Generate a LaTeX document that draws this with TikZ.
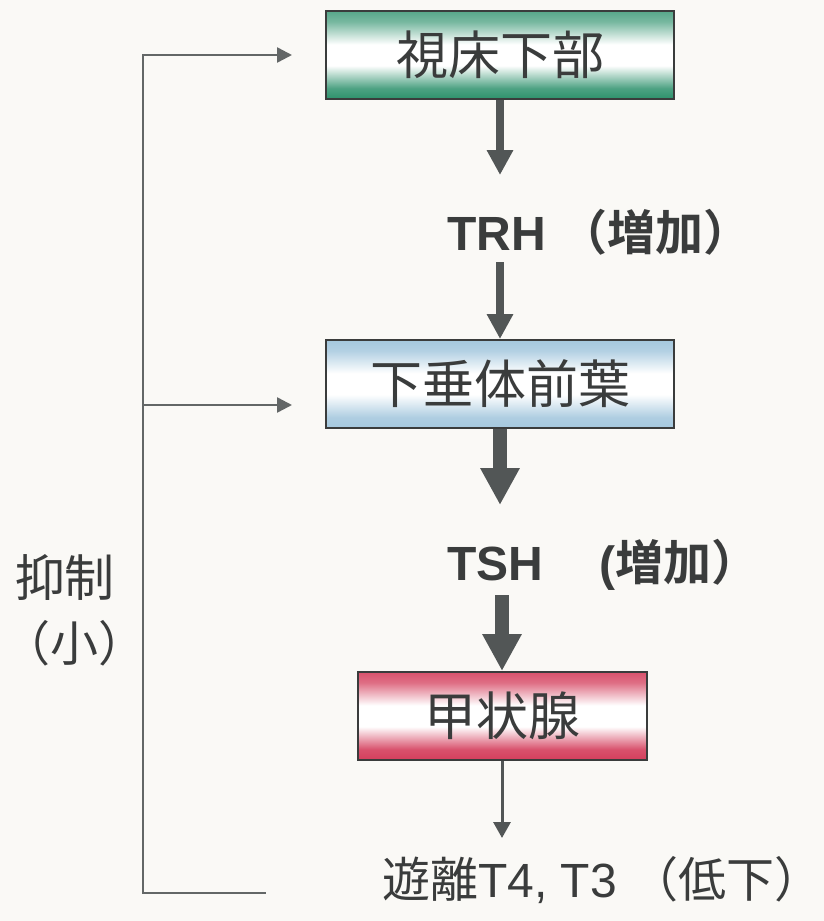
\documentclass[tikz,border=0pt]{standalone}
\usepackage{fontspec}
\setmainfont{Liberation Sans}
\newfontfamily\cjk{Noto Sans CJK JP}[BoldFont={Noto Sans CJK JP Bold}]
\usetikzlibrary{arrows.meta}
\definecolor{bg}{RGB}{250,249,246}
\definecolor{ink}{RGB}{58,60,60}
\definecolor{arr}{RGB}{82,86,86}
\definecolor{gG}{RGB}{45,145,108}
\definecolor{gB}{RGB}{165,200,222}
\definecolor{gR}{RGB}{212,62,92}
\pgfdeclareverticalshading{greenband}{100bp}{color(0bp)=(gG); color(25bp)=(gG); color(31bp)=(gG!85); color(44bp)=(white); color(56bp)=(white); color(69bp)=(gG!65); color(75bp)=(gG!80); color(100bp)=(gG!80)}
\pgfdeclareverticalshading{blueband}{100bp}{color(0bp)=(gB); color(25bp)=(gB); color(31bp)=(gB!90); color(44bp)=(white); color(56bp)=(white); color(69bp)=(gB!85); color(75bp)=(gB); color(100bp)=(gB)}
\pgfdeclareverticalshading{redband}{100bp}{color(0bp)=(gR); color(25bp)=(gR); color(31bp)=(gR!90); color(44bp)=(white); color(56bp)=(white); color(69bp)=(gR!75); color(75bp)=(gR!90); color(100bp)=(gR!90)}
\tikzset{
  organ/.style={draw=ink, line width=2pt, inner sep=0pt, minimum height=88pt,
     text=ink, font=\cjk\fontsize{52}{60}\selectfont},
  lbl/.style={text=ink, inner sep=0pt, anchor=west},
  thinarr/.style={draw=arr, line width=8pt, -{Triangle[width=25pt,length=25pt]}},
  thickarr/.style={draw=arr, line width=14pt, -{Triangle[width=37pt,length=37pt]}},
  hairarr/.style={draw=arr, line width=3pt, -{Triangle[width=17pt,length=16pt]}},
  fb/.style={draw=arr!90, line width=2.5pt},
  fbarr/.style={fb, -{Triangle[width=15pt,length=15pt]}},
}
\begin{document}
\begin{tikzpicture}[x=1pt,y=-1pt]
\fill[bg] (0,0) rectangle (824,921);
\useasboundingbox (0,0) rectangle (824,921);

% boxes
\node[organ, shading=greenband, minimum width=348pt] (b1) at (500,55) {視床下部};
\node[organ, shading=blueband, minimum width=348pt] (b2) at (500,384) {下垂体前葉};
\node[organ, shading=redband, minimum width=289pt] (b3) at (502,716) {甲状腺};

% labels
\node[lbl] (trh) at (447,232) {\fontsize{48}{56}\selectfont\bfseries TRH {\cjk （増加）}};
\node[lbl] (tsh) at (447,565) {\fontsize{48}{56}\selectfont\bfseries TSH\hspace{56pt}({\cjk 増加）}};
\node[lbl] (t4) at (382,880) {\fontsize{48}{56}\selectfont{\cjk 遊離}T4, T3 {\cjk （低下）}};
\node[text=ink, inner sep=0pt] (yoku) at (65,577) {\cjk\fontsize{50}{58}\selectfont 抑制};
\node[text=ink, inner sep=0pt] (sho) at (74,643) {\cjk\fontsize{48}{56}\selectfont （小）};

% main arrows
\coordinate (a1e) at (500,175);
\coordinate (a2s) at (500,262);
\coordinate (a3e) at (500,505);
\coordinate (a4s) at (502,595);
\coordinate (a5e) at (502,838);
\draw[thinarr] (b1.south) -- (a1e);
\draw[thinarr] (a2s) -- (b2.north);
\draw[thickarr] (b2.south) -- (a3e);
\draw[thickarr] (a4s) -- (b3.north);
\draw[hairarr] (b3.south) -- (a5e);

% feedback
\coordinate (fbT) at (143,55);
\coordinate (fbM) at (143,405);
\coordinate (fbB) at (143,893);
\coordinate (fbE) at (265,893);
\draw[fb, line cap=rect] (fbE) -- (fbB) -- (fbT);
\draw[fbarr, shorten >=33pt] (fbT) -- (b1.west);
\draw[fbarr, shorten >=33pt] (fbM) -- (fbM -| b2.west);
\end{tikzpicture}
\end{document}
